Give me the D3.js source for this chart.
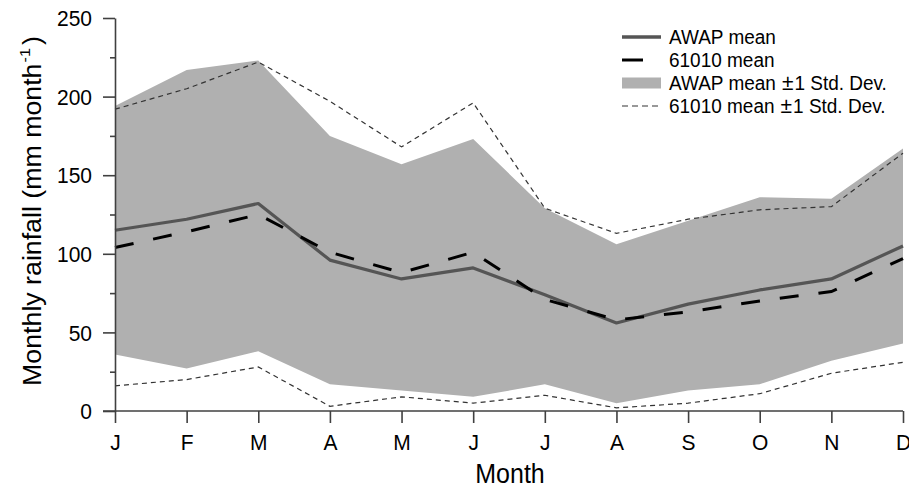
<!DOCTYPE html>
<html>
<head>
<meta charset="utf-8">
<script src="https://cdn.jsdelivr.net/npm/d3@7/dist/d3.min.js"></script>
<style>
  html, body { margin: 0; padding: 0; background: #fff; }
  svg { display: block; font-family: "Liberation Sans", Arial, Helvetica, sans-serif; }
</style>
</head>
<body>
<svg id="chart" width="909" height="486"></svg>
<script>
// Monthly rainfall climatology: gridded AWAP vs station 61010
const months = ["J", "F", "M", "A", "M", "J", "J", "A", "S", "O", "N", "D"];
const awapMean  = [115, 122, 132, 96, 84, 91, 74, 56, 68, 77, 84, 105];
const awapUpper = [194, 217, 223, 175, 157, 173, 129, 106, 121, 136, 135, 167];
const awapLower = [36, 27, 38, 17, 13, 9, 17, 5, 13, 17, 32, 43];
const stnMean   = [104, 114, 125, 101, 88, 101, 71, 58, 63, 70, 76, 97];
const stnUpper  = [192, 205, 222, 197, 168, 196, 129, 113, 122, 128, 130, 164];
const stnLower  = [16, 20, 28, 3, 9, 5, 10, 2, 5, 11, 24, 31];
const yTicks = [0, 25, 50, 75, 100, 125, 150, 175, 200, 225, 250];
const legendNames = ["AWAP mean", "61010 mean", "AWAP mean", "61010 mean"];
const legendSd = [false, false, true, true];

const svg = d3.select("#chart");
const axisColor = "#404040";
const tall = 1.07; // glyphs are drawn slightly taller than wide

const x = d3.scalePoint().domain(d3.range(months.length)).range([115, 903]);
const y = d3.scaleLinear().domain([0, 250]).range([411, 18]);

const idx = d3.range(months.length);

// ±1 SD envelope of the gridded series
const band = d3.area()
  .x(i => x(i))
  .y0(i => y(awapLower[i]))
  .y1(i => y(awapUpper[i]));
svg.append("path")
  .datum(idx)
  .attr("d", band)
  .attr("fill", "#b0b0b0");

const lineOf = arr => d3.line().x(i => x(i)).y(i => y(arr[i]))(idx);

// Station ±1 SD bounds
[stnUpper, stnLower].forEach(arr => {
  svg.append("path")
    .attr("d", lineOf(arr))
    .attr("fill", "none")
    .attr("stroke", "#333")
    .attr("stroke-width", 1.2)
    .attr("stroke-dasharray", "5,4");
});

// Means
svg.append("path")
  .attr("d", lineOf(awapMean))
  .attr("fill", "none")
  .attr("stroke", "#555")
  .attr("stroke-width", 3.2)
  .attr("stroke-linejoin", "round");

svg.append("path")
  .attr("d", lineOf(stnMean))
  .attr("fill", "none")
  .attr("stroke", "#000")
  .attr("stroke-width", 3)
  .attr("stroke-dasharray", "19,20");

// Y axis
const yAxis = d3.axisLeft(y)
  .tickValues(yTicks)
  .tickSizeOuter(0)
  .tickFormat(d => d % 50 === 0 ? d : "");
const gy = svg.append("g").attr("transform", "translate(115,0)").call(yAxis);
gy.select(".domain").attr("stroke", axisColor).attr("stroke-width", 1.6);
gy.selectAll(".tick line")
  .attr("stroke", axisColor)
  .attr("stroke-width", 1.6)
  .attr("x2", d => d % 50 === 0 ? -12 : -5);
gy.selectAll(".tick text")
  .attr("x", -23)
  .attr("dy", "0.34em")
  .attr("transform", `scale(1,${tall})`)
  .attr("fill", "#000")
  .style("font-size", "21px")
  .style("font-family", "'Liberation Sans', Arial, sans-serif");

// X axis
const xAxis = d3.axisBottom(x)
  .tickSizeOuter(0)
  .tickSize(12)
  .tickFormat(i => months[i]);
const gx = svg.append("g").attr("transform", "translate(0,411)").call(xAxis);
gx.select(".domain").remove();
gx.append("line")
  .attr("x1", 103).attr("x2", 903)
  .attr("stroke", axisColor).attr("stroke-width", 1.6);
gx.selectAll(".tick line").attr("stroke", axisColor).attr("stroke-width", 1.6);
gx.selectAll(".tick text")
  .attr("y", 39.5 / tall)
  .attr("dy", 0)
  .attr("transform", `scale(1,${tall})`)
  .attr("fill", "#000")
  .style("font-size", "21px")
  .style("font-family", "'Liberation Sans', Arial, sans-serif");

// Axis titles
svg.append("text")
  .attr("transform", `translate(510,483) scale(1,${tall})`)
  .attr("text-anchor", "middle")
  .style("font-size", "25px")
  .text("Month");

const yTitle = svg.append("text")
  .attr("transform", `translate(41,211) rotate(-90) scale(${tall},1)`)
  .attr("text-anchor", "middle")
  .style("font-size", "25px");
yTitle.append("tspan").text("Monthly rainfall (mm month");
yTitle.append("tspan").attr("dy", -11).attr("dx", 1).style("font-size", "15px").text("-1");
yTitle.append("tspan").attr("dy", 11).attr("dx", 3).text(")");

// Legend
const lg = svg.append("g").attr("transform", "translate(622,0)");
const rowY = [37, 60, 83, 106];
lg.append("line").attr("x1", 0).attr("x2", 39).attr("y1", rowY[0]).attr("y2", rowY[0])
  .attr("stroke", "#555").attr("stroke-width", 3.5);
lg.append("line").attr("x1", 0).attr("x2", 39).attr("y1", rowY[1]).attr("y2", rowY[1])
  .attr("stroke", "#000").attr("stroke-width", 3).attr("stroke-dasharray", "21,20");
lg.append("rect").attr("x", 0).attr("y", rowY[2] - 5.5).attr("width", 39).attr("height", 11)
  .attr("fill", "#b0b0b0");
lg.append("line").attr("x1", 0).attr("x2", 38).attr("y1", rowY[3]).attr("y2", rowY[3])
  .attr("stroke", "#333").attr("stroke-width", 1.2).attr("stroke-dasharray", "6,4");
legendNames.forEach((t, i) => {
  const tx = lg.append("text")
    .attr("transform", `translate(47,${rowY[i] + 7}) scale(1,${tall})`)
    .style("font-size", "19px");
  tx.append("tspan").text(t);
  if (legendSd[i]) {
    tx.append("tspan").attr("dx", 6).style("font-size", "21px").text("\u00b1");
    tx.append("tspan").attr("dx", 1).text("1 Std. Dev.");
  }
});
</script>
</body>
</html>
